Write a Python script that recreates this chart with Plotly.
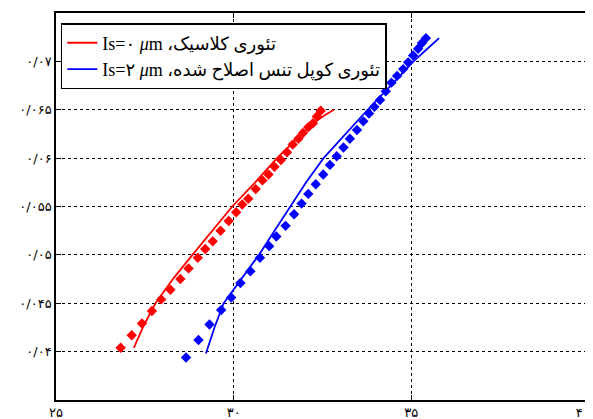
import plotly.graph_objects as go

# Red: classical theory (Is = 0 µm)
red_dot_x = [26.82, 27.13, 27.42, 27.70, 27.96, 28.22, 28.50, 28.73, 28.99, 29.20,
             29.41, 29.63, 29.86, 30.07, 30.24, 30.41, 30.62, 30.81, 30.98, 31.15,
             31.33, 31.50, 31.66, 31.82, 31.95, 32.10, 32.23, 32.34, 32.45]
red_dot_y = [0.0404, 0.0417, 0.0429, 0.0442, 0.0454, 0.0464, 0.0475, 0.0486, 0.0497, 0.0506,
             0.0514, 0.0525, 0.0535, 0.0544, 0.0552, 0.0558, 0.0568, 0.0577, 0.0583, 0.0591,
             0.0598, 0.0606, 0.0614, 0.0620, 0.0626, 0.0632, 0.0636, 0.0643, 0.0649]
red_line_x = [27.19, 27.47, 27.80, 28.31, 28.84, 29.38, 29.96, 30.58, 31.22, 31.78, 32.28, 32.55, 32.82]
red_line_y = [0.0404, 0.0427, 0.0450, 0.0476, 0.0500, 0.0524, 0.0550, 0.0574, 0.0600, 0.0620, 0.0637, 0.0644, 0.0650]

# Blue: modified couple stress theory (Is = 2 µm)
blue_dot_x = [28.66, 29.01, 29.32, 29.65, 29.93, 30.19, 30.47, 30.74, 31.00, 31.20,
              31.46, 31.70, 31.91, 32.10, 32.31, 32.52, 32.71, 32.90, 33.09, 33.27,
              33.47, 33.65, 33.81, 33.96, 34.12, 34.28, 34.44, 34.60, 34.77, 34.91,
              35.05, 35.19, 35.30, 35.41]
blue_dot_y = [0.0394, 0.0412, 0.0428, 0.0443, 0.0456, 0.0471, 0.0483, 0.0497, 0.0509, 0.0519,
              0.0530, 0.0542, 0.0553, 0.0563, 0.0573, 0.0583, 0.0593, 0.0602, 0.0611, 0.0620,
              0.0629, 0.0638, 0.0646, 0.0653, 0.0660, 0.0669, 0.0678, 0.0685, 0.0692, 0.0699,
              0.0706, 0.0713, 0.0719, 0.0724]
blue_line_x = [29.22, 29.46, 29.72, 30.22, 30.71, 31.15, 31.60, 32.04, 32.53, 33.15, 33.77, 34.42, 35.06, 35.42, 35.78]
blue_line_y = [0.0398, 0.0425, 0.0450, 0.0475, 0.0500, 0.0525, 0.0550, 0.0575, 0.0600, 0.0625, 0.0650, 0.0675, 0.0700, 0.0712, 0.0724]

x_tickvals = [25, 30, 35, 40]
x_ticktext = ["۲۵", "۳۰", "۳۵", "۴۰\u00a0\u00a0\u00a0"]
y_tickvals = [0.04, 0.045, 0.05, 0.055, 0.06, 0.065, 0.07]
y_ticktext = ["۰/۰۴", "۰/۰۴۵", "۰/۰۵", "۰/۰۵۵", "۰/۰۶", "۰/۰۶۵", "۰/۰۷"]

red_name = "\u202Bتئوری کلاسیک، Is=۰ <i>μ</i>m\u202C"
blue_name = "\u202Bتئوری کوپل تنس اصلاح شده، Is=۲ <i>μ</i>m\u202C"

fig = go.Figure()
fig.add_trace(go.Scatter(x=red_line_x, y=red_line_y, mode="lines", name=red_name,
                         line=dict(color="#ff0000", width=1.8)))
fig.add_trace(go.Scatter(x=blue_line_x, y=blue_line_y, mode="lines", name=blue_name,
                         line=dict(color="#0000ff", width=1.8)))
fig.add_trace(go.Scatter(x=red_dot_x, y=red_dot_y, mode="markers", showlegend=False,
                         marker=dict(color="#ff0000", symbol="diamond", size=8, line=dict(width=0))))
fig.add_trace(go.Scatter(x=blue_dot_x, y=blue_dot_y, mode="markers", showlegend=False,
                         marker=dict(color="#0000ff", symbol="diamond", size=8, line=dict(width=0))))

axis_common = dict(
    showline=True, linecolor="black", linewidth=1.5, mirror="ticks",
    ticks="inside", ticklen=5, tickcolor="black",
    showgrid=True, gridcolor="black", gridwidth=1, griddash="3px,3px",
    zeroline=False, automargin=False, ticklabeloverflow="allow",
    tickfont=dict(family="DejaVu Sans", size=13, color="black"),
)

fig.update_xaxes(range=[25, 40], tickvals=x_tickvals, ticktext=x_ticktext, **axis_common)
fig.update_yaxes(range=[0.035, 0.075], tickvals=y_tickvals, ticktext=y_ticktext, **axis_common)

# The page body adds an 8px offset, so the figure is sized to fit the window.
fig.update_layout(
    width=585, height=411,
    margin=dict(l=48, r=4, t=5, b=19),
    paper_bgcolor="white", plot_bgcolor="white",
    showlegend=True,
    legend=dict(x=0.009, y=0.974, xanchor="left", yanchor="top",
                bgcolor="white", bordercolor="black", borderwidth=1.5,
                font=dict(family="Liberation Serif, DejaVu Sans", size=18, color="black"),
                tracegroupgap=0),
)

fig.write_html("out.html")
